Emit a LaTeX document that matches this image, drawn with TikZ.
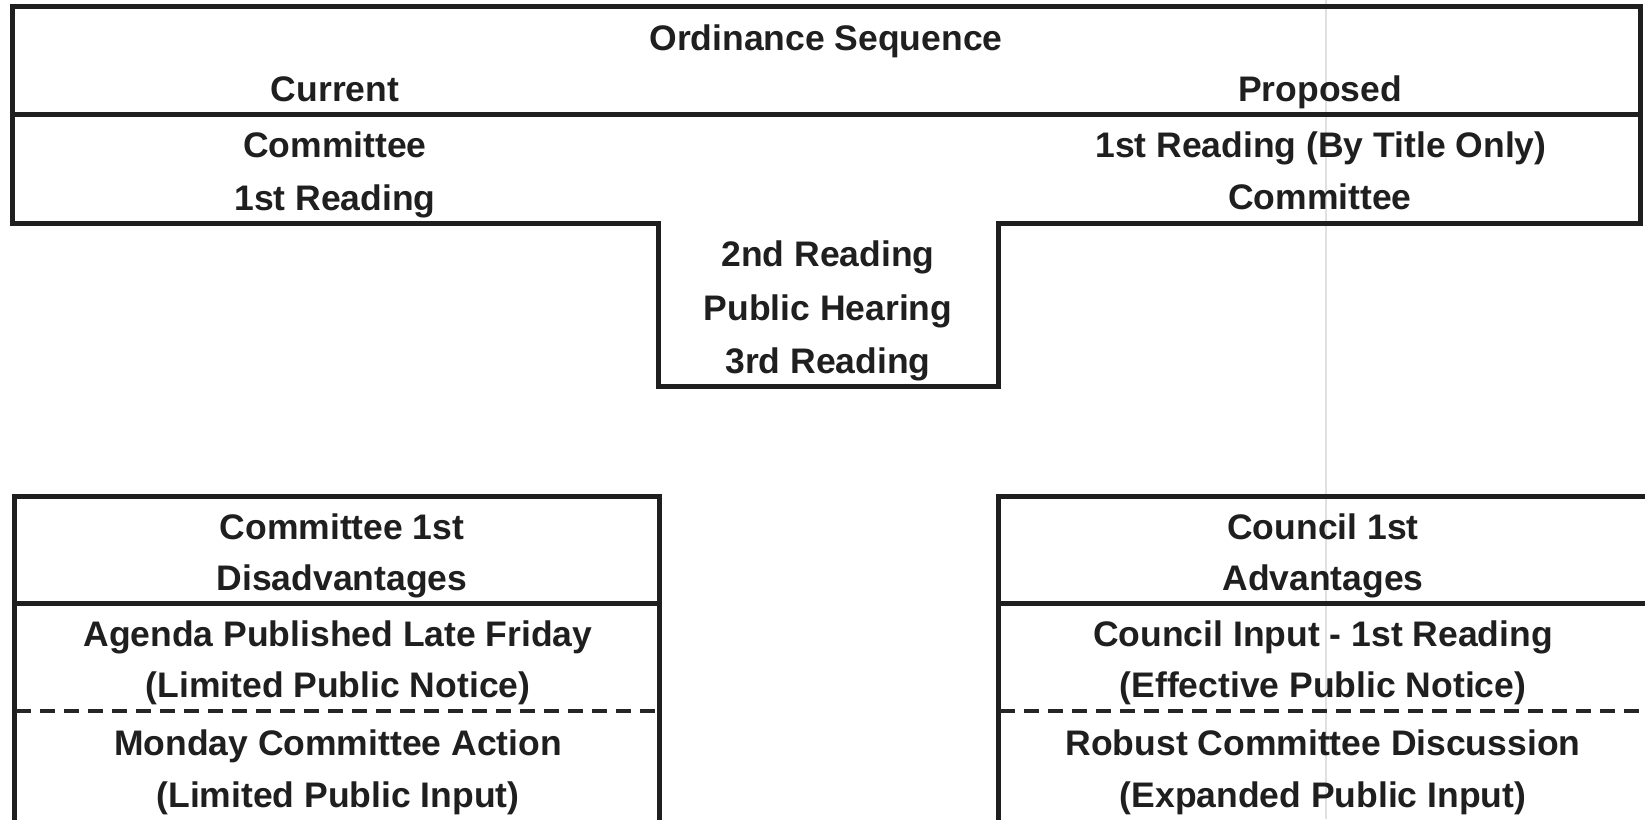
\documentclass[tikz,border=0pt]{standalone}
\usepackage{fontspec}
\setmainfont{Liberation Sans}[BoldFont={* Bold}]
\begin{document}
\begin{tikzpicture}[x=1pt,y=-1pt,
  frame/.style={line width=5pt,draw=black!88,line join=miter},
  sep/.style={line width=3.5pt,draw=black!85,dash pattern=on 15pt off 9pt},
  txt/.style={font=\fontsize{35.5}{40}\selectfont\bfseries,text=black!88,inner sep=0pt,anchor=base}]
\useasboundingbox (0,0) rectangle (1645,819);
\fill[white] (0,0) rectangle (1645,819);
% faint scan fold line
\draw[black!12,line width=1.2pt] (1326,0) -- (1326,819);
% top T-shaped frame
\draw[frame] (12,6) -- (1640,6) -- (1640,223) -- (998,223) -- (998,386) -- (658,386) -- (658,223) -- (12,223) -- cycle;
\draw[frame] (12,114) -- (1640,114);
% bottom-left box (cropped at bottom)
\draw[frame] (14,830) -- (14,496) -- (659,496) -- (659,830);
\draw[frame] (14,603) -- (659,603);
\draw[sep] (16,711) -- (657,711);
% bottom-right box (cropped at right and bottom)
\draw[frame] (998,830) -- (998,496) -- (1660,496);
\draw[frame] (998,603) -- (1660,603);
\draw[sep] (1000,711) -- (1660,711);
% texts
\node[txt] (title) at (826,50) {Ordinance Sequence};
\node[txt] (cur) at (335,101) {Current};
\node[txt] (prop) at (1320,101) {Proposed};
\node[txt] (c1) at (335,157) {Committee};
\node[txt] (c2) at (335,210) {1st Reading};
\node[txt] (p1) at (1321,157) {1st Reading (By Title Only)};
\node[txt] (p2) at (1320,209) {Committee};
\node[txt] (m1) at (828,266) {2nd Reading};
\node[txt] (m2) at (828,320) {Public Hearing};
\node[txt] (m3) at (828,373) {3rd Reading};
\node[txt] (l1) at (342,539) {Committee 1st};
\node[txt] (l2) at (342,590) {Disadvantages};
\node[txt] (l3) at (338,646) {Agenda Published Late Friday};
\node[txt] (l4) at (338,697) {(Limited Public Notice)};
\node[txt] (l5) at (338,755) {Monday Committee Action};
\node[txt] (l6) at (338,807) {(Limited Public Input)};
\node[txt] (r1) at (1323,539) {Council 1st};
\node[txt] (r2) at (1323,590) {Advantages};
\node[txt] (r3) at (1323,646) {Council Input - 1st Reading};
\node[txt] (r4) at (1323,697) {(Effective Public Notice)};
\node[txt] (r5) at (1323,755) {Robust Committee Discussion};
\node[txt] (r6) at (1323,807) {(Expanded Public Input)};
\end{tikzpicture}
\end{document}
